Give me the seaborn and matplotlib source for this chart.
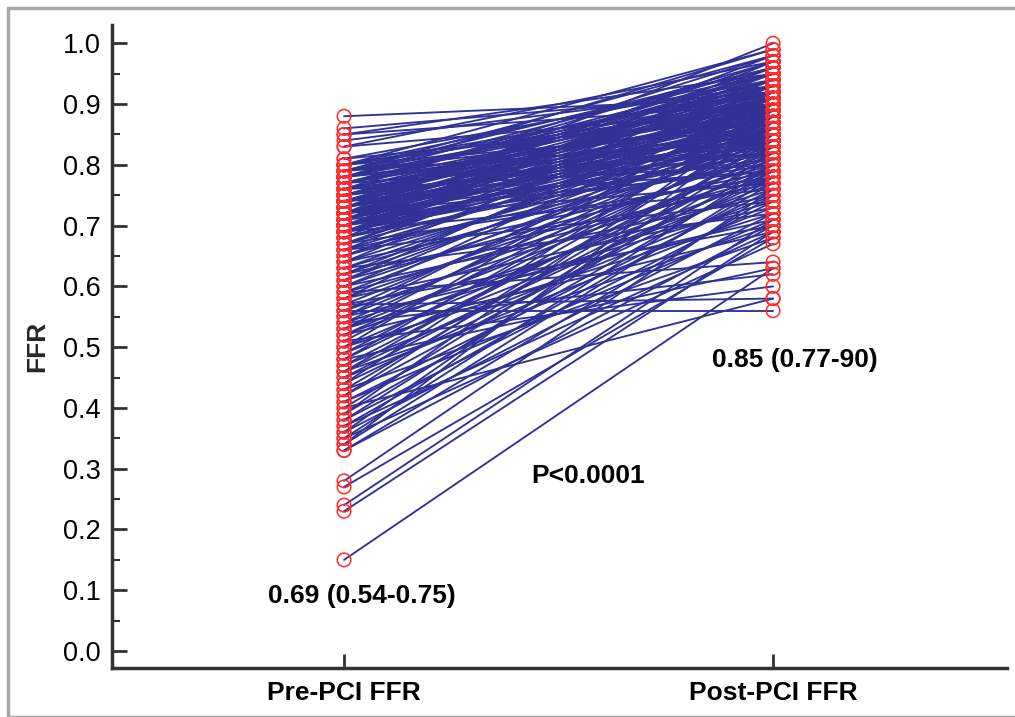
import numpy as np
import pandas as pd
import seaborn as sns
import matplotlib.pyplot as plt
from matplotlib.patches import Rectangle
from matplotlib.ticker import MultipleLocator

pre_ffr = [
    0.88, 0.86, 0.85, 0.85, 0.84, 0.83, 0.83, 0.81, 0.81, 0.80, 0.80, 0.80,
    0.79, 0.79, 0.79, 0.78, 0.78, 0.78, 0.77, 0.77, 0.77, 0.76, 0.76, 0.76,
    0.76, 0.75, 0.75, 0.75, 0.75, 0.75, 0.74, 0.74, 0.74, 0.74, 0.73, 0.73,
    0.73, 0.73, 0.72, 0.72, 0.72, 0.72, 0.71, 0.71, 0.71, 0.71, 0.70, 0.70,
    0.70, 0.70, 0.70, 0.69, 0.69, 0.69, 0.69, 0.69, 0.68, 0.68, 0.68, 0.68,
    0.67, 0.67, 0.67, 0.67, 0.66, 0.66, 0.66, 0.66, 0.65, 0.65, 0.65, 0.64,
    0.64, 0.64, 0.63, 0.63, 0.63, 0.62, 0.62, 0.62, 0.61, 0.61, 0.61, 0.60,
    0.60, 0.60, 0.59, 0.59, 0.59, 0.58, 0.58, 0.58, 0.57, 0.57, 0.57, 0.56,
    0.56, 0.56, 0.55, 0.55, 0.55, 0.54, 0.54, 0.54, 0.53, 0.53, 0.53, 0.52,
    0.52, 0.52, 0.51, 0.51, 0.50, 0.50, 0.50, 0.49, 0.49, 0.48, 0.48, 0.48,
    0.47, 0.47, 0.46, 0.46, 0.46, 0.45, 0.45, 0.44, 0.44, 0.43, 0.43, 0.42,
    0.42, 0.41, 0.41, 0.40, 0.40, 0.39, 0.39, 0.38, 0.38, 0.37, 0.37, 0.36,
    0.36, 0.35, 0.35, 0.34, 0.34, 0.33, 0.33, 0.28, 0.27, 0.24, 0.23, 0.15,
    0.80, 0.80, 0.79, 0.79, 0.79, 0.78, 0.78, 0.78, 0.77, 0.77, 0.77, 0.76,
    0.76, 0.76, 0.75, 0.75, 0.75, 0.75, 0.78,
    0.74, 0.74, 0.74, 0.74, 0.73, 0.73, 0.73, 0.72, 0.72, 0.72, 0.72, 0.71,
    0.71, 0.71, 0.70, 0.70, 0.70, 0.70, 0.69, 0.69, 0.69, 0.69, 0.71,
]
post_ffr = [
    0.91, 0.92, 0.90, 0.95, 0.93, 0.89, 0.97, 0.88, 0.94, 0.92, 0.86, 0.99,
    0.90, 0.84, 0.96, 0.91, 0.87, 0.93, 0.82, 0.95, 0.89, 0.92, 0.85, 0.98,
    0.80, 0.91, 0.88, 0.94, 0.83, 0.90, 0.86, 0.93, 0.79, 0.96, 0.89, 0.84,
    0.91, 0.87, 0.94, 0.81, 0.88, 1.00, 0.90, 0.85, 0.77, 0.92, 0.87, 0.83,
    0.95, 0.89, 0.80, 0.86, 0.91, 0.76, 0.93, 0.84, 0.88, 0.82, 0.97, 0.86,
    0.90, 0.78, 0.85, 0.92, 0.87, 0.81, 0.94, 0.74, 0.89, 0.84, 0.91, 0.86,
    0.79, 0.93, 0.88, 0.83, 0.72, 0.90, 0.85, 0.77, 0.87, 0.92, 0.80, 0.84,
    0.75, 0.89, 0.64, 0.86, 0.78, 0.82, 0.91, 0.73, 0.58, 0.85, 0.70, 0.88,
    0.79, 0.56, 0.83, 0.71, 0.90, 0.76, 0.86, 0.62, 0.81, 0.74, 0.89, 0.78,
    0.84, 0.69, 0.87, 0.60, 0.80, 0.92, 0.72, 0.85, 0.77, 0.82, 0.63, 0.88,
    0.75, 0.83, 0.79, 0.70, 0.86, 0.81, 0.73, 0.90, 0.78, 0.84, 0.68, 0.80,
    0.87, 0.76, 0.71, 0.83, 0.58, 0.79, 0.89, 0.74, 0.82, 0.77, 0.69, 0.85,
    0.72, 0.80, 0.67, 0.78, 0.88, 0.75, 0.70, 0.76, 0.68, 0.71, 0.69, 0.63,
    0.90, 0.95, 0.93, 0.87, 0.98, 0.92, 0.85, 0.96, 0.91, 0.88, 0.94, 0.90,
    0.86, 0.97, 0.93, 0.89, 0.84, 0.95, 0.99,
    0.91, 0.88, 0.95, 0.82, 0.92, 0.86, 0.97, 0.90, 0.85, 0.93, 0.79, 0.89,
    0.94, 0.87, 0.91, 0.84, 0.96, 0.88, 0.90, 0.82, 0.95, 0.87, 0.98,
]
stages = ["Pre-PCI FFR", "Post-PCI FFR"]

n = len(pre_ffr)
df = pd.DataFrame({
    "patient": list(range(n)) * 2,
    "stage": [stages[0]] * n + [stages[1]] * n,
    "ffr": pre_ffr + post_ffr,
})

sns.set_style("ticks")
plt.rcParams["font.family"] = ["Liberation Sans", "DejaVu Sans"]
plt.rcParams["text.color"] = "black"
plt.rcParams["xtick.labelcolor"] = "black"
plt.rcParams["ytick.labelcolor"] = "black"

fig = plt.figure(figsize=(10.15, 7.17), dpi=100)
ax = fig.add_axes([0.1103, 0.0683, 0.8817, 0.8967])

sns.lineplot(data=df, x="stage", y="ffr", units="patient", estimator=None,
             sort=False, color="#313295", lw=1.35, ax=ax, legend=False)
sns.scatterplot(data=df, x="stage", y="ffr", marker="o", s=95,
                edgecolor="#ff2a2a", linewidth=1.1, ax=ax, legend=False, zorder=3)
ax.collections[-1].set_facecolor("none")

ax.set_xlim(-0.541, 1.545)
ax.set_ylim(-0.028, 1.03)
ax.yaxis.set_major_locator(MultipleLocator(0.1))
ax.yaxis.set_minor_locator(MultipleLocator(0.05))
ax.set_yticklabels([f"{v:.1f}" for v in ax.get_yticks()])
ax.set_ylim(-0.028, 1.03)

ax.tick_params(axis="y", which="major", direction="in", length=11, width=2,
               color="#333333", labelsize=19.5, pad=8)
ax.tick_params(axis="y", which="minor", direction="in", length=6, width=1.5,
               color="#333333")
ax.tick_params(axis="x", direction="in", length=10, width=2, color="#333333",
               labelsize=19, pad=9)
for lab in ax.get_xticklabels():
    lab.set_fontweight("bold")

for side in ["top", "right"]:
    ax.spines[side].set_visible(False)
for side in ["left", "bottom"]:
    ax.spines[side].set_linewidth(2.5)
    ax.spines[side].set_color("#333333")

ax.set_xlabel("")
ax.set_ylabel("FFR", fontsize=19, fontweight="bold", labelpad=10)

ax.text(0.042, 0.09, "0.69 (0.54-0.75)", ha="center", va="center",
        fontsize=19, fontweight="bold")
ax.text(0.569, 0.288, "P<0.0001", ha="center", va="center",
        fontsize=19, fontweight="bold")
ax.text(1.051, 0.479, "0.85 (0.77-90)", ha="center", va="center",
        fontsize=19, fontweight="bold")

# light grey frame round the whole picture
fig.patches.append(Rectangle((8 / 1015, 0), 1.2, 1 - 8 / 717,
                             transform=fig.transFigure, fill=False,
                             edgecolor="#a8a8a8", lw=2.5))

fig.savefig("out.png", dpi=100)
